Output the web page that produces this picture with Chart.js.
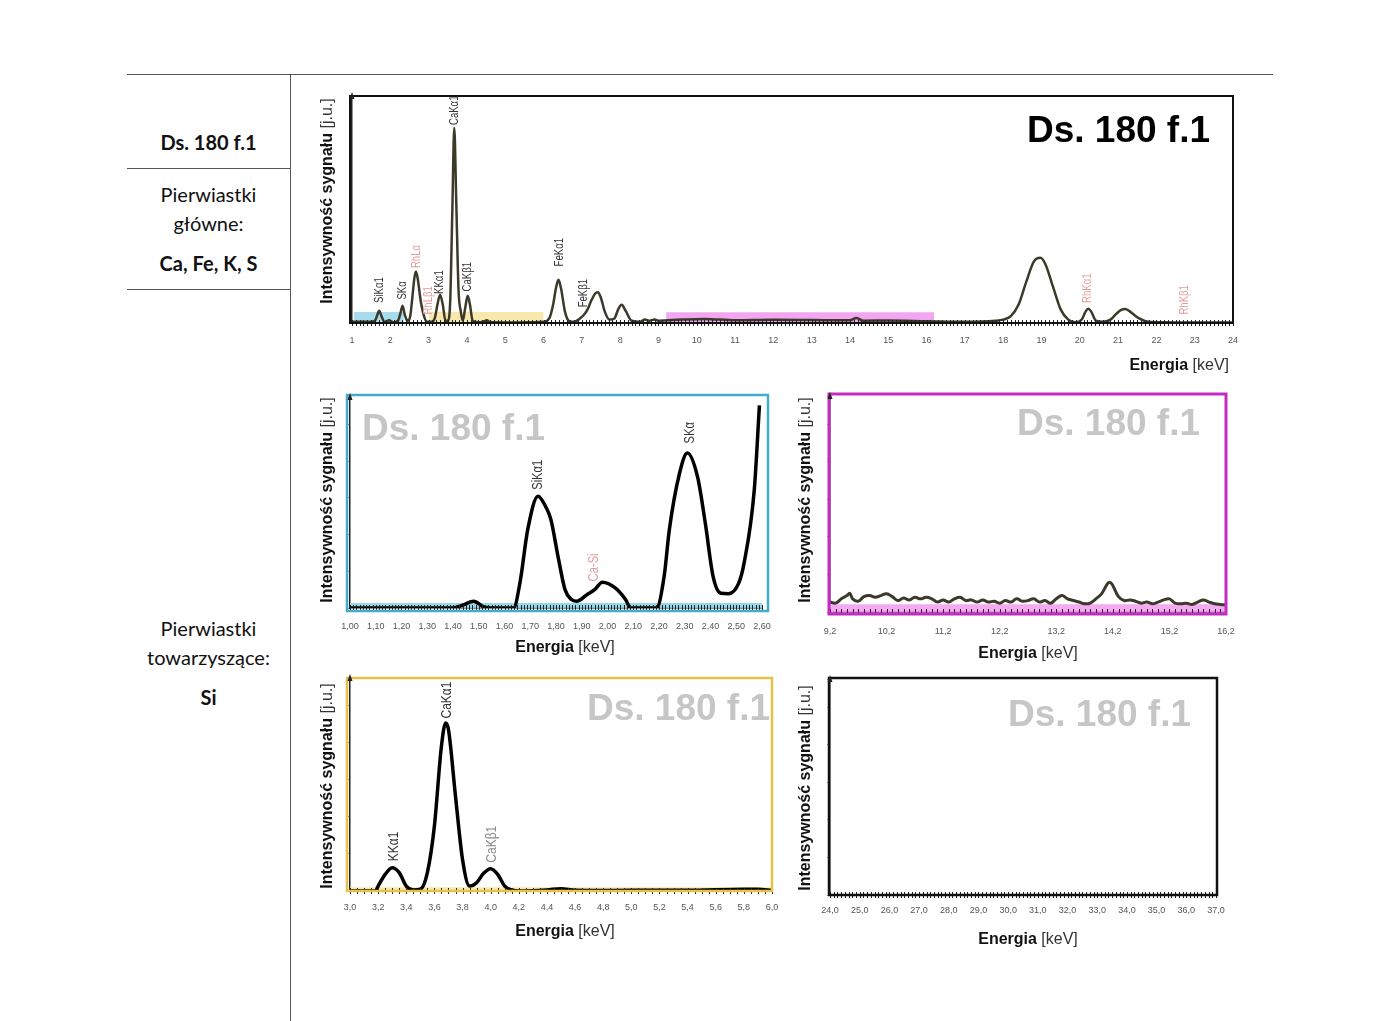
<!DOCTYPE html>
<html lang="pl">
<head>
<meta charset="utf-8">
<title>Ds. 180 f.1</title>
<script src="https://cdn.jsdelivr.net/npm/chart.js@4.4.0/dist/chart.umd.min.js"></script>
<style>
  html, body { margin: 0; padding: 0; background: #fff; }
  body { width: 1400px; height: 1021px; position: relative; overflow: hidden; font-family: Lato, "Open Sans", sans-serif; color: #111; }
  .hline { position: absolute; height: 0; border-top: 1px solid #555; }
  .vline { position: absolute; width: 0; border-left: 1px solid #555; }
  .cell { position: absolute; left: 127px; width: 163px; text-align: center; font-size: 20px; line-height: 24px; }
  .cell.b { font-weight: bold; }
  canvas { position: absolute; }
</style>
</head>
<body>

<div class="hline" style="left:127px; top:74px; width:1146px;"></div>
<div class="vline" style="left:290px; top:74px; height:947px;"></div>
<div class="hline" style="left:127px; top:168px; width:163px;"></div>
<div class="hline" style="left:127px; top:289px; width:163px;"></div>

<div class="cell b" style="top:130px;">Ds. 180 f.1</div>
<div class="cell" style="top:182px;">Pierwiastki</div>
<div class="cell" style="top:211px;">główne:</div>
<div class="cell b" style="top:251px;">Ca, Fe, K, S</div>
<div class="cell" style="top:616px;">Pierwiastki</div>
<div class="cell" style="top:645px;">towarzyszące:</div>
<div class="cell b" style="top:685px;">Si</div>

<canvas id="cTop" width="950" height="300" style="left:300px; top:85px;"></canvas>
<canvas id="cSi" width="490" height="280" style="left:300px; top:385px;"></canvas>
<canvas id="cMid" width="470" height="280" style="left:780px; top:385px;"></canvas>
<canvas id="cCa" width="490" height="290" style="left:300px; top:668px;"></canvas>
<canvas id="cHigh" width="470" height="290" style="left:780px; top:668px;"></canvas>

<script>
// ---- full spectrum 1-24 keV ----
var topE = [1.0,1.5,1.6,1.65,1.71,1.77,1.85,1.97,2.07,2.2,
            2.26,2.32,2.38,2.45,2.52,2.58,2.63,2.67,2.72,2.8,
            2.88,2.96,3.08,3.16,3.23,3.3,3.37,3.44,3.5,3.56,
            3.62,3.67,3.72,3.78,3.84,3.89,3.95,4.02,4.08,4.15,
            4.3,4.45,4.52,4.6,5.0,5.6,6.0,6.15,6.25,6.32,
            6.39,6.46,6.56,6.66,6.8,6.95,7.05,7.15,7.25,7.35,
            7.42,7.5,7.6,7.72,7.85,7.95,8.04,8.14,8.3,8.5,
            8.65,8.75,8.9,9.0,9.6,10.2,11.0,12.0,13.0,14.0,
            14.17,14.35,15.0,16.0,17.0,17.8,18.0,18.2,18.4,18.6,
            18.8,18.97,19.1,19.3,19.5,19.7,19.9,20.05,20.15,20.22,
            20.3,20.42,20.6,20.8,20.95,21.08,21.19,21.35,21.55,21.8,
            22.2,23.0,24.0];
var topI = [0.5,0.5,1,3,5.4,3,0.5,1.2,0.3,1,
            4,7.6,3.5,1,3,12,20,22.7,19,9,
            3,0.5,0.5,2,8,12.5,8,1,1,8,
            50,86,55,15,5,1,6,12,8,1,
            0.3,0.8,1.2,0.4,0.2,0.3,0.5,2,8,15,
            19,15,5,1,0.5,2,3.5,6,10,13,
            13.6,11,5,1.5,2,6,8,5.5,1,0.5,
            1.5,1,1.5,1,1.5,1.8,1.2,1.4,1.3,1.2,
            2.2,1,1.1,0.8,0.5,1,1.5,3,8,18,
            27,28.7,26,16,6,1.5,0.3,1.5,5,6.3,
            5,1,0.5,1.5,4,5.8,6.2,4.5,2,0.5,
            0.3,0.2,0.2];
var topPeakNames = ['SiKα1','SKα','RhLα','RhLβ1','KKα1','CaKα1','CaKβ1','FeKα1','FeKβ1','RhKα1','RhKβ1'];
var topPeakE     = [1.71, 2.32, 2.70, 3.00, 3.30, 3.67, 4.03, 6.43, 7.06, 20.2, 22.74];
var topPeakAt    = [8.8, 10.3, 24.2, 3.7, 12.8, 87.2, 13.9, 24.9, 6.9, 8.8, 3.7];
var topBandStart = [1.05, 3.0, 9.2];
var topBandEnd   = [2.35, 6.0, 16.2];
var topBandLevel = [4.8, 4.8, 4.7];

// ---- zoom 1.00-2.60 keV (Si, S) ----
var siE = [1.00,1.40,1.44,1.48,1.52,1.56,1.635,1.66,1.69,1.73,
           1.76,1.78,1.81,1.835,1.86,1.88,1.92,1.95,1.98,2.03,
           2.07,2.09,2.19,2.22,2.24,2.28,2.31,2.35,2.38,2.41,
           2.44,2.47,2.51,2.53,2.57,2.59];
var siI = [0,0,1.5,3.2,0.5,0,0,11.9,37,53,
           48,42,23,8.7,4,3.2,6.3,8.7,12.2,9.5,
           4,0,0,15,37,64,73.5,62,40,15,
           7,6.8,11.9,21,56,96];
var siPeakNames = ['SiKα1','Ca-Si','SKα'];
var siPeakE     = [1.73, 1.95, 2.32];
var siPeakAt    = [56, 12.6, 78];

// ---- zoom 9.2-16.2 keV ----
var midE = [9.2,9.3,9.4,9.5,9.55,9.6,9.7,9.8,9.9,10.0,
            10.1,10.2,10.3,10.4,10.5,10.6,10.7,10.8,10.9,11.0,
            11.1,11.2,11.3,11.4,11.5,11.6,11.7,11.8,11.9,12.0,
            12.1,12.2,12.3,12.4,12.5,12.6,12.7,12.8,12.9,13.0,
            13.1,13.2,13.3,13.4,13.5,13.6,13.7,13.8,13.9,14.0,
            14.1,14.15,14.2,14.3,14.4,14.5,14.6,14.7,14.8,14.9,
            15.0,15.1,15.2,15.3,15.4,15.5,15.6,15.7,15.8,15.9,
            16.0,16.1,16.2];
var midI = [4.6,4.1,6.1,7.6,8.7,6.1,5.0,7.1,7.6,6.8,
            7.6,8.4,7.1,5.3,6.5,5.6,6.8,6.1,6.8,6.1,
            4.6,5.6,4.6,6.1,6.8,5.3,5.6,4.6,5.6,4.6,
            5.0,4.1,5.3,4.6,6.1,5.0,5.3,6.1,4.6,5.3,
            4.1,6.1,7.6,6.1,5.3,4.6,3.8,4.1,6.1,8.4,
            12.9,13.7,12.2,7.1,5.3,5.6,5.0,4.1,4.6,3.8,
            4.6,5.6,6.1,4.1,3.8,4.1,3.5,4.6,5.6,4.6,
            3.8,3.5,3.3];

// ---- zoom 3.0-6.0 keV (K, Ca) ----
var caE = [3.0,3.18,3.2,3.25,3.3,3.35,3.4,3.45,3.5,3.55,
           3.6,3.65,3.68,3.7,3.75,3.8,3.85,3.9,3.95,4.0,
           4.05,4.1,4.15,4.2,4.4,4.5,4.6,4.8,5.0,5.4,
           5.8,5.9,6.0];
var caI = [0,0,2.3,7.8,10.9,8.6,2.3,0.5,0.8,8.6,
           30.5,68,78.9,75.8,44.5,14.8,2.3,3.9,8.3,10.5,
           7.8,2.3,0.5,0,0.5,1.1,0.3,0.2,0.3,0.3,
           0.8,0.8,0.3];
var caPeakNames = ['KKα1','CaKα1','CaKβ1'];
var caPeakE     = [3.31, 3.69, 4.01];
var caPeakAt    = [14, 81, 13.3];

// ---- zoom 24-37 keV (empty) ----
var highE = [24.0, 37.0];
var highI = [0, 0];

var FONT = '"Liberation Sans", Arial, sans-serif';

function toPoints(xs, ys) {
    return xs.map(function (x, i) { return { x: x, y: ys[i] }; });
}

function comma(d) {
    return function (v) { return v.toFixed(d).replace('.', ','); };
}

function drawTitle(ctx, parts, x, y, align, rotate) {
    ctx.save();
    ctx.translate(x, y);
    if (rotate) ctx.rotate(-Math.PI / 2);
    ctx.textBaseline = 'middle';
    ctx.textAlign = 'left';
    var bold = 'bold 16px ' + FONT, reg = '16px ' + FONT;
    ctx.font = bold;
    var w1 = ctx.measureText(parts[0]).width;
    ctx.font = reg;
    var w2 = ctx.measureText(parts[1]).width;
    var x0 = align === 'right' ? -(w1 + w2) : (align === 'center' ? -(w1 + w2) / 2 : 0);
    ctx.fillStyle = '#111';
    ctx.font = bold;
    ctx.fillText(parts[0], x0, 0);
    ctx.fillStyle = '#333';
    ctx.font = reg;
    ctx.fillText(parts[1], x0 + w1, 0);
    ctx.restore();
}

function decor(cfg) {
    return {
        id: 'decor',
        afterDatasetsDraw: function (chart) {
            var ctx = chart.ctx, a = chart.chartArea;
            var xs = chart.scales.x, ys = chart.scales.y;
            ctx.save();

            // dense hash marks on the energy axis
            ctx.strokeStyle = '#222';
            ctx.lineWidth = 1;
            ctx.beginPath();
            xs.ticks.forEach(function (t) {
                var px = Math.round(xs.getPixelForValue(t.value)) + 0.5;
                ctx.moveTo(px, a.bottom - 3);
                ctx.lineTo(px, a.bottom + 3);
            });
            ctx.stroke();

            // coloured frame
            var f = cfg.frame;
            ctx.strokeStyle = f.color;
            ctx.lineWidth = f.width;
            ctx.strokeRect(a.left + f.inset[0], a.top + f.inset[1],
                a.right - a.left + f.inset[2] - f.inset[0],
                a.bottom - a.top + f.inset[3] - f.inset[1]);

            // arrow on y axis
            ctx.fillStyle = '#222';
            ctx.beginPath();
            ctx.moveTo(a.left, a.top - 4);
            ctx.lineTo(a.left - 2.5, a.top + 3);
            ctx.lineTo(a.left + 2.5, a.top + 3);
            ctx.closePath();
            ctx.fill();

            // sample name
            ctx.font = 'bold 37px ' + FONT;
            ctx.fillStyle = cfg.mark.color;
            ctx.textAlign = cfg.mark.align;
            ctx.textBaseline = 'alphabetic';
            ctx.fillText('Ds. 180 f.1', cfg.mark.x, cfg.mark.y);

            // peak labels
            if (cfg.peaks) {
                cfg.peaks.names.forEach(function (name, i) {
                    var px = xs.getPixelForValue(cfg.peaks.e[i]);
                    var py = ys.getPixelForValue(cfg.peaks.at[i]);
                    ctx.save();
                    ctx.translate(px, py);
                    ctx.rotate(-Math.PI / 2);
                    ctx.scale(0.8, 1);
                    ctx.font = cfg.peaks.size + 'px ' + FONT;
                    ctx.fillStyle = cfg.peaks.colors[i];
                    ctx.textAlign = 'left';
                    ctx.textBaseline = 'middle';
                    ctx.fillText(name, 0, 0);
                    ctx.restore();
                });
            }

            drawTitle(ctx, ['Energia', ' [keV]'], cfg.xTitle[0], cfg.xTitle[1], cfg.xTitle[2], false);
            drawTitle(ctx, ['Intensywność sygnału', ' [j.u.]'], cfg.yTitle[0], cfg.yTitle[1], 'center', true);
            ctx.restore();
        }
    };
}

function makeChart(id, cfg) {
    var datasets = [{
        data: toPoints(cfg.energy, cfg.intensity),
        borderColor: cfg.lineColor,
        borderWidth: cfg.lineWidth,
        pointRadius: 0,
        tension: 0.4,
        cubicInterpolationMode: cfg.monotone ? 'monotone' : 'default',
        fill: false,
        order: 1
    }];
    (cfg.bands || []).forEach(function (b) {
        datasets.push({
            data: [{ x: b[0], y: b[2] }, { x: b[1], y: b[2] }],
            borderWidth: 0,
            pointRadius: 0,
            backgroundColor: b[3],
            fill: 'origin',
            order: 2
        });
    });

    var isMajor = function (v) {
        var k = (v - cfg.min) / cfg.major;
        return Math.abs(k - Math.round(k)) < 1e-6;
    };

    new Chart(document.getElementById(id), {
        type: 'line',
        data: { datasets: datasets },
        options: {
            responsive: false,
            animation: false,
            layout: { padding: { top: cfg.pad[0], right: cfg.pad[1], bottom: 0, left: 0 } },
            plugins: {
                legend: { display: false },
                tooltip: { enabled: false }
            },
            scales: {
                x: {
                    type: 'linear',
                    min: cfg.min,
                    max: cfg.max,
                    afterFit: function (s) { s.height = cfg.xHeight; },
                    afterBuildTicks: function (s) {
                        var out = [], n = Math.round((cfg.max - cfg.min) / cfg.minor);
                        for (var i = 0; i <= n; i++) out.push({ value: +(cfg.min + i * cfg.minor).toFixed(6) });
                        s.ticks = out;
                    },
                    grid: { display: false, drawTicks: false },
                    border: { color: '#222', width: 1.5 },
                    ticks: {
                        autoSkip: false,
                        maxRotation: 0,
                        minRotation: 0,
                        padding: cfg.tickPad,
                        color: '#555',
                        font: { size: 9, family: FONT },
                        callback: function (v) { return isMajor(v) ? cfg.fmt(v) : ''; }
                    }
                },
                y: {
                    min: 0,
                    max: 100,
                    afterFit: function (s) { s.width = cfg.yWidth; },
                    ticks: { display: false, stepSize: 17.4 },
                    grid: { drawOnChartArea: false, tickLength: 3, color: '#999' },
                    border: { color: '#222', width: 1.5 }
                }
            }
        },
        plugins: [decor(cfg)]
    });
}

var PINK = '#e39c9c', INK = '#333';

makeChart('cTop', {
    energy: topE, intensity: topI, lineColor: '#3b3a2a', lineWidth: 2.5, monotone: true,
    min: 1, max: 24, minor: 0.1, major: 1, fmt: function (v) { return String(Math.round(v)); },
    pad: [11, 17], yWidth: 52, xHeight: 62, tickPad: 12,
    bands: topBandStart.map(function (s, i) {
        return [s, topBandEnd[i], topBandLevel[i],
            ['rgba(150,214,234,0.85)', 'rgba(248,228,158,0.85)', 'rgba(240,150,238,0.85)'][i]];
    }),
    frame: { color: '#111', width: 2, inset: [-2, 0, 0, 0] },
    mark: { color: '#000', align: 'right', x: 910, y: 57 },
    peaks: { names: topPeakNames, e: topPeakE, at: topPeakAt, size: 12,
             colors: [INK, INK, PINK, PINK, INK, INK, INK, INK, INK, PINK, PINK] },
    xTitle: [929, 281, 'right'],
    yTitle: [28, 116]
});

makeChart('cSi', {
    energy: siE, intensity: siI, lineColor: '#000', lineWidth: 3.5, monotone: true,
    min: 1.0, max: 2.6, minor: 0.0125, major: 0.1, fmt: comma(2),
    pad: [12, 28], yWidth: 50, xHeight: 57, tickPad: 13,
    bands: [[1.0, 2.6, 2.4, 'rgba(140,212,234,0.9)']],
    frame: { color: '#41adcb', width: 2.5, inset: [-3, -2, 6, 3] },
    mark: { color: '#c6c6c6', align: 'left', x: 62, y: 55 },
    peaks: { names: siPeakNames, e: siPeakE, at: siPeakAt, size: 14, colors: [INK, PINK, INK] },
    xTitle: [265, 263, 'center'],
    yTitle: [28, 115]
});

makeChart('cMid', {
    energy: midE, intensity: midI, lineColor: '#3b3a2a', lineWidth: 3, monotone: false,
    min: 9.2, max: 16.2, minor: 0.1, major: 1, fmt: comma(1),
    pad: [11, 24], yWidth: 50, xHeight: 53, tickPad: 14,
    bands: [[9.2, 16.2, 3.6, 'rgba(243,160,240,0.9)']],
    frame: { color: '#c42bc4', width: 3, inset: [-1, -2, 0, 2] },
    mark: { color: '#c6c6c6', align: 'right', x: 420, y: 50 },
    peaks: null,
    xTitle: [248, 269, 'center'],
    yTitle: [26, 115]
});

makeChart('cCa', {
    energy: caE, intensity: caI, lineColor: '#000', lineWidth: 3.5, monotone: true,
    min: 3.0, max: 6.0, minor: 0.05, major: 0.2, fmt: comma(1),
    pad: [10, 18], yWidth: 50, xHeight: 67, tickPad: 11,
    bands: [[3.0, 6.0, 1.8, 'rgba(246,228,160,0.9)']],
    frame: { color: '#e6c24a', width: 2.5, inset: [-3, 0, 0, 0] },
    mark: { color: '#c6c6c6', align: 'right', x: 470, y: 52 },
    peaks: { names: caPeakNames, e: caPeakE, at: caPeakAt, size: 15, colors: [INK, INK, '#888'] },
    xTitle: [265, 264, 'center'],
    yTitle: [28, 118]
});

makeChart('cHigh', {
    energy: highE, intensity: highI, lineColor: '#222', lineWidth: 1.5, monotone: false,
    min: 24, max: 37, minor: 0.125, major: 1, fmt: comma(1),
    pad: [11, 34], yWidth: 50, xHeight: 63, tickPad: 10,
    bands: [],
    frame: { color: '#111', width: 2.5, inset: [-1, -1, 1, 0] },
    mark: { color: '#c6c6c6', align: 'right', x: 411, y: 58 },
    peaks: null,
    xTitle: [248, 272, 'center'],
    yTitle: [26, 120]
});
</script>
</body>
</html>
